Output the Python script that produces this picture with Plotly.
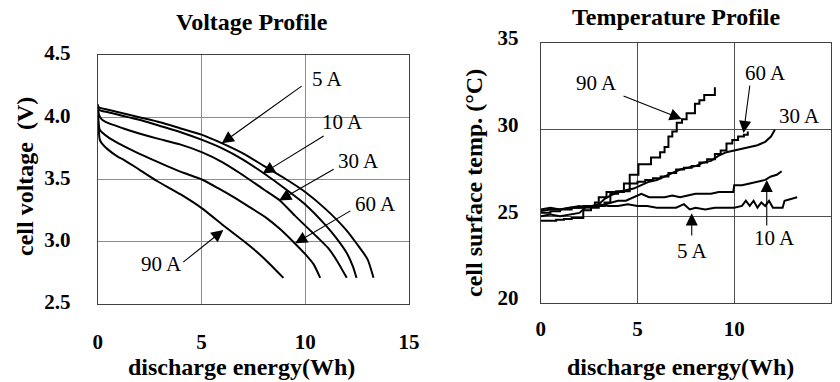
import plotly.graph_objects as go

# ---------------- data: voltage profile ----------------
v5_e = [0, 0.05, 0.5, 1, 2, 3, 4, 5, 6, 7, 8, 9, 10, 11, 12, 12.5, 13, 13.29]
v5_v = [4.10, 4.08, 4.06, 4.04, 4.00, 3.96, 3.91, 3.86, 3.79, 3.71, 3.61, 3.51, 3.40, 3.26, 3.09, 2.98, 2.86, 2.71]
v10_e = [0, 0.05, 0.5, 1, 2, 3, 4, 5, 6, 7, 8, 9, 10, 11, 11.5, 12, 12.3, 12.47]
v10_v = [4.10, 4.06, 4.04, 4.02, 3.98, 3.93, 3.88, 3.82, 3.75, 3.66, 3.55, 3.43, 3.30, 3.13, 3.03, 2.91, 2.80, 2.71]
v30_e = [0, 0.05, 0.15, 0.4, 1.24, 2, 2.84, 4, 5.01, 6, 6.86, 8, 8.79, 9.5, 10.56, 11.1, 11.52, 12.0]
v30_v = [4.10, 4.03, 3.99, 3.96, 3.91, 3.87, 3.83, 3.78, 3.72, 3.64, 3.55, 3.42, 3.33, 3.21, 3.04, 2.95, 2.85, 2.71]
v60_e = [0, 0.03, 0.1, 0.5, 1, 1.72, 2.5, 3.32, 4.2, 5.02, 5.8, 6.53, 7.3, 8.14, 8.8, 9.42, 10.0, 10.4, 10.72]
v60_v = [4.10, 3.98, 3.90, 3.84, 3.79, 3.73, 3.67, 3.61, 3.55, 3.50, 3.43, 3.36, 3.28, 3.19, 3.10, 3.00, 2.90, 2.82, 2.71]
v90_e = [0, 0.03, 0.1, 0.2, 0.5, 1, 1.24, 2, 2.84, 4, 5.01, 6.14, 7, 7.66, 8.3, 8.95]
v90_v = [4.10, 3.95, 3.82, 3.79, 3.74, 3.68, 3.66, 3.58, 3.49, 3.38, 3.27, 3.12, 3.01, 2.92, 2.82, 2.71]

# ---------------- data: temperature profile ----------------
t90_e = [0, 0.5, 1.0, 1.6, 2.2, 2.8, 3.0, 3.4, 3.9, 4.6, 5.05, 5.7, 6.17, 6.4, 6.6, 6.8, 7.03, 7.3, 7.54, 7.97, 8.2, 8.45, 9.0]
t90_t = [25.2, 25.3, 25.4, 25.5, 25.6, 25.8, 26.1, 26.4, 26.45, 27.4, 28.0, 28.4, 28.7, 29.0, 29.6, 29.9, 30.4, 30.6, 30.95, 31.5, 31.7, 32.0, 32.45]
t60_e = [0, 0.4, 0.8, 1.2, 1.6, 2.0, 2.2, 2.6, 3.0, 3.3, 3.6, 4.0, 4.3, 4.8, 5.0, 5.4, 5.8, 6.2, 6.6, 7.0, 7.4, 7.8, 8.2, 8.6, 9.0, 9.3, 9.6, 9.9, 10.2, 10.5, 10.7]
t60_t = [24.75, 24.75, 24.8, 24.85, 24.9, 24.9, 25.35, 25.5, 25.6, 25.8, 26.3, 26.4, 26.9, 26.9, 27.0, 27.1, 27.2, 27.3, 27.5, 27.7, 27.8, 27.9, 28.1, 28.3, 28.6, 28.8, 29.2, 29.4, 29.6, 29.7, 29.9]
t30_e = [0, 0.5, 1.0, 1.5, 2.0, 2.3, 2.6, 3.0, 3.3, 3.6, 4.0, 4.4, 4.8, 5.2, 5.6, 6.0, 6.4, 6.8, 7.2, 7.6, 8.0, 8.4, 8.8, 9.2, 9.6, 10.0, 10.4, 10.8, 11.2, 11.6, 11.9, 12.1]
t30_t = [25.0, 25.1, 25.0, 25.1, 25.2, 25.5, 25.6, 25.7, 26.0, 26.2, 26.4, 26.5, 26.6, 26.8, 27.0, 27.1, 27.3, 27.5, 27.7, 27.8, 27.9, 28.1, 28.2, 28.5, 28.7, 28.8, 28.9, 29.0, 29.1, 29.3, 29.6, 30.0]
t10_e = [0, 0.5, 1.0, 1.5, 2.0, 2.5, 3.0, 3.3, 3.6, 4.0, 4.4, 4.8, 5.2, 5.6, 6.0, 6.4, 6.8, 7.2, 7.6, 8.0, 8.4, 8.8, 9.2, 9.6, 9.95, 10.0, 10.4, 10.8, 11.2, 11.6, 11.9, 12.2, 12.45]
t10_t = [25.3, 25.4, 25.4, 25.5, 25.5, 25.6, 25.6, 25.7, 25.8, 25.9, 25.9, 26.1, 26.3, 26.1, 26.1, 26.1, 26.2, 26.1, 26.2, 26.3, 26.3, 26.3, 26.4, 26.4, 26.4, 26.8, 26.8, 26.9, 27.0, 27.1, 27.3, 27.4, 27.6]
t5_e = [0, 0.5, 1.0, 1.5, 2.0, 2.5, 3.0, 3.5, 4.0, 4.5, 5.0, 5.5, 6.0, 6.5, 7.0, 7.4, 7.7, 8.0, 8.5, 9.0, 9.5, 10.0, 10.4, 10.6, 10.8, 11.0, 11.2, 11.4, 11.6, 11.8, 12.0, 12.3, 12.5, 12.6, 12.9, 13.25]
t5_t = [25.4, 25.5, 25.4, 25.5, 25.6, 25.5, 25.7, 25.6, 25.6, 25.7, 25.6, 25.6, 25.5, 25.5, 25.5, 25.7, 25.4, 25.5, 25.4, 25.5, 25.5, 25.5, 25.6, 25.9, 25.6, 25.9, 25.5, 25.8, 25.6, 25.9, 25.5, 25.5, 25.5, 25.9, 26.0, 26.1]

x_ticks = [0, 5, 10, 15]
v_ticks = [2.5, 3.0, 3.5, 4.0, 4.5]
v_tick_text = ["2.5", "3.0", "3.5", "4.0", "4.5"]
t_ticks = [20, 25, 30, 35]

SERIF = "Liberation Serif"
W, H = 840, 382

fig = go.Figure()

for xs, ys in [(v5_e, v5_v), (v10_e, v10_v), (v30_e, v30_v), (v60_e, v60_v), (v90_e, v90_v)]:
    fig.add_trace(go.Scatter(x=xs, y=ys, mode="lines", line=dict(color="black", width=2, shape="spline", smoothing=0.6),
                             xaxis="x", yaxis="y", showlegend=False, hoverinfo="skip"))

for xs, ys, shp in [(t90_e, t90_t, "hv"), (t60_e, t60_t, "hv"), (t30_e, t30_t, "linear"), (t10_e, t10_t, "linear"), (t5_e, t5_t, "linear")]:
    fig.add_trace(go.Scatter(x=xs, y=ys, mode="lines", line=dict(color="black", width=2, shape=shp),
                             xaxis="x2", yaxis="y2", showlegend=False, hoverinfo="skip"))

tick_font = dict(family=SERIF, size=21, color="black", weight="bold")
common = dict(showline=True, mirror=True, ticks="", zeroline=False, showgrid=True, fixedrange=True, automargin=False)

fig.update_layout(
    template="none",
    width=W, height=H,
    margin=dict(l=0, r=0, t=0, b=0, pad=0, autoexpand=False),
    paper_bgcolor="white", plot_bgcolor="white",
    showlegend=False,
    xaxis=dict(domain=[97.7 / W, 409 / W], range=[0, 15], tickvals=x_ticks, tickfont=tick_font,
               linecolor="#404040", linewidth=1, gridcolor="#8c8c8c", gridwidth=1,
               ticklabelstandoff=19, anchor="y", **common),
    yaxis=dict(domain=[1 - 304 / H, 1 - 55 / H], range=[2.5, 4.5], tickvals=v_ticks, ticktext=v_tick_text,
               tickfont=tick_font, linecolor="#404040", linewidth=1, gridcolor="#8c8c8c", gridwidth=1,
               ticklabelstandoff=22, ticklabelshift=-2, anchor="x", **common),
    xaxis2=dict(domain=[540.7 / W, 831 / W], range=[0, 15], tickvals=x_ticks, tickfont=tick_font,
                linecolor="#404040", linewidth=1, gridcolor="#505050", gridwidth=1,
                ticklabelstandoff=7, anchor="y2", **common),
    yaxis2=dict(domain=[1 - 303 / H, 1 - 43 / H], range=[20, 35], tickvals=t_ticks,
                tickfont=tick_font, linecolor="#404040", linewidth=1, gridcolor="#505050", gridwidth=1,
                ticklabelstandoff=17, ticklabelshift=-5, anchor="x2", **common),
)

bold_font = dict(family=SERIF, size=24, color="black", weight="bold")
lab_font = dict(family=SERIF, size=21, color="black")

def paper(px, py):
    return px / W, 1 - py / H

anns = []
def text_px(txt, px, py, font, angle=0):
    x, y = paper(px, py)
    anns.append(dict(text=txt, x=x, y=y, xref="paper", yref="paper", showarrow=False,
                     xanchor="center", yanchor="middle", font=font, textangle=angle))

text_px("Voltage Profile", 252, 22, bold_font)
text_px("Temperature Profile", 676, 17, bold_font)
text_px("discharge energy(Wh)", 242, 367, bold_font)
text_px("discharge energy(Wh)", 680, 367, bold_font)
text_px("cell voltage  (V)", 25, 177, bold_font, -90)
text_px("cell surface temp. (°C)", 474, 183, bold_font, -90)

def lab(txt, x, y, xr, yr):
    anns.append(dict(text=txt, x=x, y=y, xref=xr, yref=yr, showarrow=False,
                     xanchor="center", yanchor="middle", font=lab_font))

def arrow(x, y, ax, ay, xr, yr):
    anns.append(dict(text="", x=x, y=y, ax=ax, ay=ay, xref=xr, yref=yr, axref=xr, ayref=yr,
                     showarrow=True, arrowhead=2, arrowsize=2.2, arrowwidth=1.1, arrowcolor="black"))

def ve(px):
    return (px - 97.7) / 20.74
def vv(py):
    return 2.5 + (304 - py) / 124.5
def te(px):
    return (px - 540.7) / 19.35
def tt(py):
    return 20 + (303 - py) / 17.33

lab("5 A", ve(327.5), vv(79), "x", "y")
arrow(ve(221.7), vv(143.3), ve(303), vv(85), "x", "y")
lab("10 A", ve(342.5), vv(122), "x", "y")
arrow(ve(262.5), vv(173.5), ve(325), vv(135), "x", "y")
lab("30 A", ve(358.3), vv(160.5), "x", "y")
arrow(ve(279), vv(200.5), ve(335), vv(168.3), "x", "y")
lab("60 A", ve(375), vv(203.5), "x", "y")
arrow(ve(295), vv(243.3), ve(351.7), vv(210), "x", "y")
lab("90 A", ve(161.7), vv(263.5), "x", "y")
arrow(ve(223.3), vv(230), ve(181.7), vv(263.3), "x", "y")

lab("90 A", te(596.7), tt(83), "x2", "y2")
arrow(te(681.7), tt(119), te(622), tt(95.5), "x2", "y2")
lab("60 A", te(765), tt(73.5), "x2", "y2")
arrow(te(743.5), tt(133), te(750), tt(84), "x2", "y2")
lab("30 A", te(799), tt(116), "x2", "y2")
lab("5 A", te(692.5), tt(251), "x2", "y2")
arrow(te(691.7), tt(213.3), te(691.7), tt(237), "x2", "y2")
lab("10 A", te(774), tt(238), "x2", "y2")
arrow(te(766.7), tt(180), te(766.7), tt(227), "x2", "y2")

fig.update_layout(annotations=anns)
fig.write_html("out.html", config={"displayModeBar": False},
               post_script="document.body.style.margin='0px';document.body.style.overflow='hidden';")
